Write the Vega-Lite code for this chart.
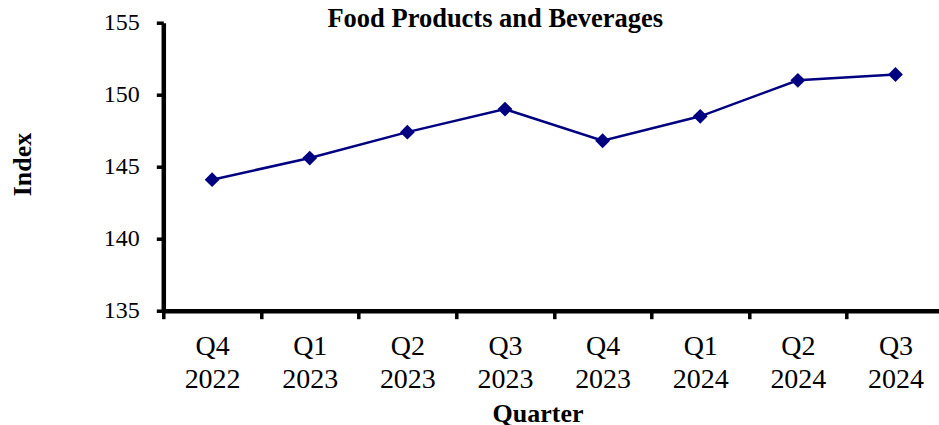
{
  "$schema": "https://vega.github.io/schema/vega-lite/v6.json",
  "width": 776,
  "height": 288,
  "autosize": {"type": "none"},
  "padding": {"left": 163.3, "top": 22.7, "right": 0, "bottom": 114.3},
  "background": "white",
  "title": {
    "text": "Food Products and Beverages",
    "font": "Liberation Serif",
    "fontSize": 26.5,
    "fontWeight": "bold",
    "color": "black",
    "anchor": "middle",
    "frame": "group",
    "dx": -56,
    "offset": -43,
    "baseline": "alphabetic"
  },
  "config": {"view": {"stroke": null}},
  "data": {
    "values": [
      {"quarter": "Q4 2022", "index": 144.1},
      {"quarter": "Q1 2023", "index": 145.6},
      {"quarter": "Q2 2023", "index": 147.4},
      {"quarter": "Q3 2023", "index": 149.0},
      {"quarter": "Q4 2023", "index": 146.8},
      {"quarter": "Q1 2024", "index": 148.5},
      {"quarter": "Q2 2024", "index": 151.0},
      {"quarter": "Q3 2024", "index": 151.4}
    ]
  },
  "encoding": {
    "x": {
      "field": "quarter",
      "type": "nominal",
      "sort": null,
      "scale": {"type": "band", "range": [0, 781], "paddingInner": 0, "paddingOuter": 0},
      "axis": {
        "title": "Quarter",
        "titleFont": "Liberation Serif",
        "titleFontSize": 26,
        "titleFontWeight": "bold",
        "titleColor": "black",
        "titleX": 374.2,
        "titleY": 111.3,
        "titleBaseline": "alphabetic",
        "titleAlign": "center",
        "labelAngle": 0,
        "labelFont": "Liberation Serif",
        "labelFontSize": 28,
        "labelColor": "black",
        "labelExpr": "split(datum.label, ' ')",
        "labelLineHeight": 33,
        "labelBaseline": "top",
        "labelPadding": 14,
        "labelOverlap": false,
        "labelBound": false,
        "tickBand": "extent",
        "tickSize": 8,
        "tickWidth": 3.5,
        "tickColor": "black",
        "domainColor": "black",
        "domainWidth": 4.5,
        "grid": false
      }
    },
    "y": {
      "field": "index",
      "type": "quantitative",
      "scale": {"domain": [135, 155], "nice": false, "zero": false},
      "axis": {
        "title": "Index",
        "titleFont": "Liberation Serif",
        "titleFontSize": 26,
        "titleFontWeight": "bold",
        "titleColor": "black",
        "titleAngle": -90,
        "titleX": -132.6,
        "titleY": 141.3,
        "titleBaseline": "alphabetic",
        "titleAlign": "center",
        "values": [135, 140, 145, 150, 155],
        "labelFont": "Liberation Serif",
        "labelFontSize": 24,
        "labelColor": "black",
        "labelPadding": 17,
        "labelOverlap": false,
        "labelBound": false,
        "labelFlush": false,
        "tickSize": 7,
        "tickWidth": 3.5,
        "tickColor": "black",
        "domainColor": "black",
        "domainWidth": 4.5,
        "grid": false
      }
    }
  },
  "layer": [
    {"mark": {"type": "line", "color": "#000080", "strokeWidth": 2.5}},
    {"mark": {"type": "point", "shape": "diamond", "filled": true, "color": "#000080", "size": 220, "opacity": 1}}
  ]
}
